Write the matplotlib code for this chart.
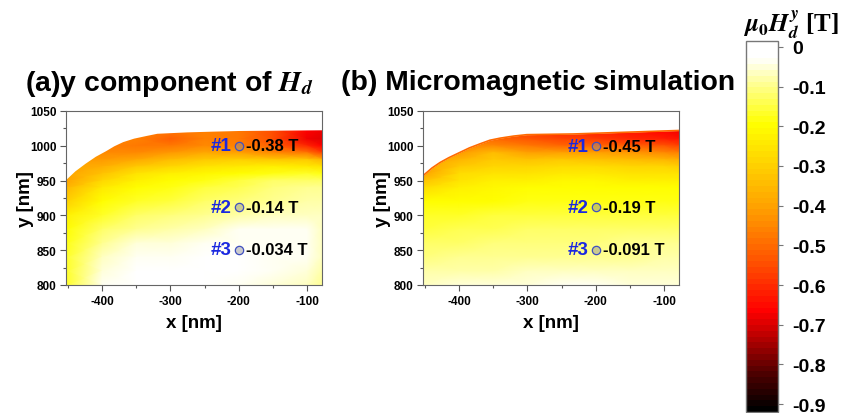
import numpy as np
import matplotlib
matplotlib.use("Agg")
import matplotlib.pyplot as plt
from matplotlib.colors import LinearSegmentedColormap, Normalize
from matplotlib.cm import ScalarMappable

plt.rcParams['font.family'] = ['Liberation Sans', 'DejaVu Sans']
plt.rcParams['mathtext.fontset'] = 'stix'
plt.rcParams['axes.unicode_minus'] = False

x_cols = [-453, -400, -350, -300, -250, -200, -150, -100, -78]
y_rows = [1023, 1010, 1000, 990, 980, 970, 960, 950, 940, 920, 900, 880, 860, 840, 820, 800]

# magnitudes in T, rows follow y_rows
field_a = [
    [.42, .42, .44, .48, .46, .48, .55, .66, .68],
    [.42, .44, .46, .52, .46, .48, .55, .68, .70],
    [.42, .46, .48, .48, .44, .46, .52, .60, .66],
    [.42, .44, .44, .42, .38, .40, .44, .48, .56],
    [.40, .42, .38, .34, .31, .30, .31, .32, .36],
    [.40, .37, .31, .28, .25, .24, .23, .24, .25],
    [.40, .33, .26, .23, .21, .19, .18, .17, .18],
    [.40, .28, .23, .20, .18, .16, .13, .12, .12],
    [.36, .24, .20, .18, .16, .14, .11, .10, .10],
    [.30, .19, .17, .15, .13, .11, .09, .08, .08],
    [.23, .17, .13, .11, .10, .08, .07, .06, .07],
    [.19, .13, .09, .08, .06, .04, .04, .04, .06],
    [.18, .09, .05, .05, .04, .03, .03, .04, .06],
    [.17, .06, .03, .03, .02, .02, .03, .04, .07],
    [.17, .05, .02, .02, .02, .02, .04, .05, .08],
    [.17, .04, .01, .02, .02, .03, .05, .06, .09],
]
field_b = [
    [.52, .52, .55, .58, .60, .62, .64, .66, .68],
    [.48, .48, .50, .54, .56, .58, .60, .62, .64],
    [.44, .44, .44, .48, .50, .50, .52, .54, .56],
    [.42, .42, .35, .40, .40, .40, .42, .44, .46],
    [.40, .36, .31, .33, .32, .33, .34, .36, .37],
    [.40, .31, .28, .28, .27, .27, .28, .29, .30],
    [.40, .27, .25, .25, .24, .24, .25, .25, .26],
    [.33, .25, .23, .22, .21, .21, .22, .22, .23],
    [.27, .23, .21, .20, .19, .19, .20, .20, .20],
    [.20, .19, .19, .18, .18, .18, .18, .18, .18],
    [.17, .17, .16, .16, .16, .16, .16, .15, .15],
    [.15, .14, .14, .13, .13, .13, .13, .12, .12],
    [.13, .12, .11, .11, .11, .11, .10, .10, .10],
    [.11, .10, .09, .09, .09, .09, .09, .08, .08],
    [.08, .08, .08, .07, .07, .07, .07, .07, .07],
    [.06, .05, .05, .05, .04, .04, .05, .05, .05],
]

edge_x_a = [-453, -440, -425, -410, -395, -383, -370, -354, -335, -320, -276, -240, -200, -78]
edge_y_a = [952, 964, 975, 985, 993, 1000, 1006, 1011, 1015, 1018, 1020, 1021, 1022, 1023]
edge_x_b = [-453, -440, -428, -415, -400, -385, -369, -355, -340, -320, -301, -233, -78]
edge_y_b = [957, 968, 976, 983, 990, 997, 1003, 1008, 1011, 1014, 1016, 1017, 1022]

point_y_a = [1000, 912, 851]
point_y_b = [999, 912, 851]
point_x = -200
point_names = ['#1', '#2', '#3']
point_labels_a = ['-0.38 T', '-0.14 T', '-0.034 T']
point_labels_b = ['-0.45 T', '-0.19 T', '-0.091 T']

cbar_ticks = [0, -0.1, -0.2, -0.3, -0.4, -0.5, -0.6, -0.7, -0.8, -0.9]
cbar_labels = ['0', '-0.1', '-0.2', '-0.3', '-0.4', '-0.5', '-0.6', '-0.7', '-0.8', '-0.9']

W, H = 846, 414
cmap = LinearSegmentedColormap.from_list('fire', [
    (0.0, '#000000'), (0.10, '#500000'), (0.22, '#d00000'), (0.27, '#ff0000'),
    (0.40, '#ff5000'), (0.55, '#ffa000'), (0.78, '#ffff00'),
    (0.90, '#ffffa0'), (0.96, '#ffffff'), (1.0, '#ffffff')], N=64)
norm = Normalize(-0.92, 0.015)


def box(left, top, right, bottom):
    return [left / W, 1 - bottom / H, (right - left) / W, (bottom - top) / H]


def panel(pos, field, edge_x, edge_y, point_y, labels):
    ax = fig.add_axes(box(*pos))
    ax.pcolormesh(x_cols, y_rows, -np.array(field), cmap=cmap, norm=norm, shading='gouraud')
    ax.fill_between(edge_x, edge_y, 1050, color='white', lw=0, zorder=2)
    ax.set_xlim(-453, -78)
    ax.set_ylim(800, 1050)
    ax.set_xticks([-400, -300, -200, -100])
    ax.set_xticks([-450, -350, -250, -150], minor=True)
    ax.set_yticks([800, 850, 900, 950, 1000, 1050])
    ax.set_yticks([825, 875, 925, 975, 1025], minor=True)
    ax.tick_params(which='major', length=4, width=0.8, color='#555555', pad=3, labelsize=8.5)
    ax.tick_params(which='minor', length=2, width=0.8, color='#555555')
    for lab in ax.get_xticklabels() + ax.get_yticklabels():
        lab.set_fontweight('bold')
    for s in ax.spines.values():
        s.set_color('#666666')
        s.set_linewidth(0.8)
        s.set_zorder(6)
    ax.set_xlabel('x [nm]', fontsize=13.5, fontweight='bold', labelpad=5)
    ax.set_ylabel('y [nm]', fontsize=13.5, fontweight='bold', labelpad=-3)
    for i in range(3):
        ax.plot(point_x, point_y[i], 'o', ms=6, mfc=(0.55, 0.55, 0.6, 0.45), mec='#4050c0', mew=0.9, zorder=4)
        ax.text(point_x - 11, point_y[i], point_names[i], color='#1a28e0', fontsize=13.5,
                fontweight='bold', ha='right', va='center', zorder=5)
        ax.text(point_x + 11, point_y[i], labels[i], color='black', fontsize=12,
                fontweight='bold', ha='left', va='center', zorder=5)
    return ax


fig = plt.figure(figsize=(W / 100, H / 100), dpi=100)

panel((66, 112, 322, 286), field_a, edge_x_a, edge_y_a, point_y_a, point_labels_a)
ax_b = panel((423, 112, 679, 286), field_b, edge_x_b, edge_y_b, point_y_b, point_labels_b)
# thin red-orange rim along the simulated edge
ax_b.plot(edge_x_b, edge_y_b, color='#ff6a00', lw=1.2, zorder=3)

fig.text(25 / W, 1 - 84 / H, r'(a)y component of $\mathbfit{H}_{\mathbfit{d}}$', fontsize=20.4, fontweight='bold', va='center')
fig.text(341 / W, 1 - 83 / H, '(b) Micromagnetic simulation', fontsize=20.4, fontweight='bold', va='center')

cax = fig.add_axes(box(746, 42, 778, 413))
cb = fig.colorbar(ScalarMappable(norm=norm, cmap=cmap), cax=cax)
cb.set_ticks(cbar_ticks, labels=cbar_labels)
cb.ax.tick_params(length=3.6, width=0.8, color='#777777', pad=7, labelsize=14)
for lab in cb.ax.get_yticklabels():
    lab.set_fontweight('bold')
cb.outline.set_edgecolor('#777777')
cb.outline.set_linewidth(1)
cb.ax.minorticks_off()

fig.text(791 / W, 1 - 25 / H, r'$\mathbfit{\mu}_{\mathbf{0}}\mathbfit{H}_{\mathbfit{d}}^{\,\mathbfit{y}}$ [T]', fontsize=18, fontweight='bold',
         family=['Liberation Serif', 'DejaVu Serif'], ha='center', va='center')

fig.savefig('out.png', dpi=100)
